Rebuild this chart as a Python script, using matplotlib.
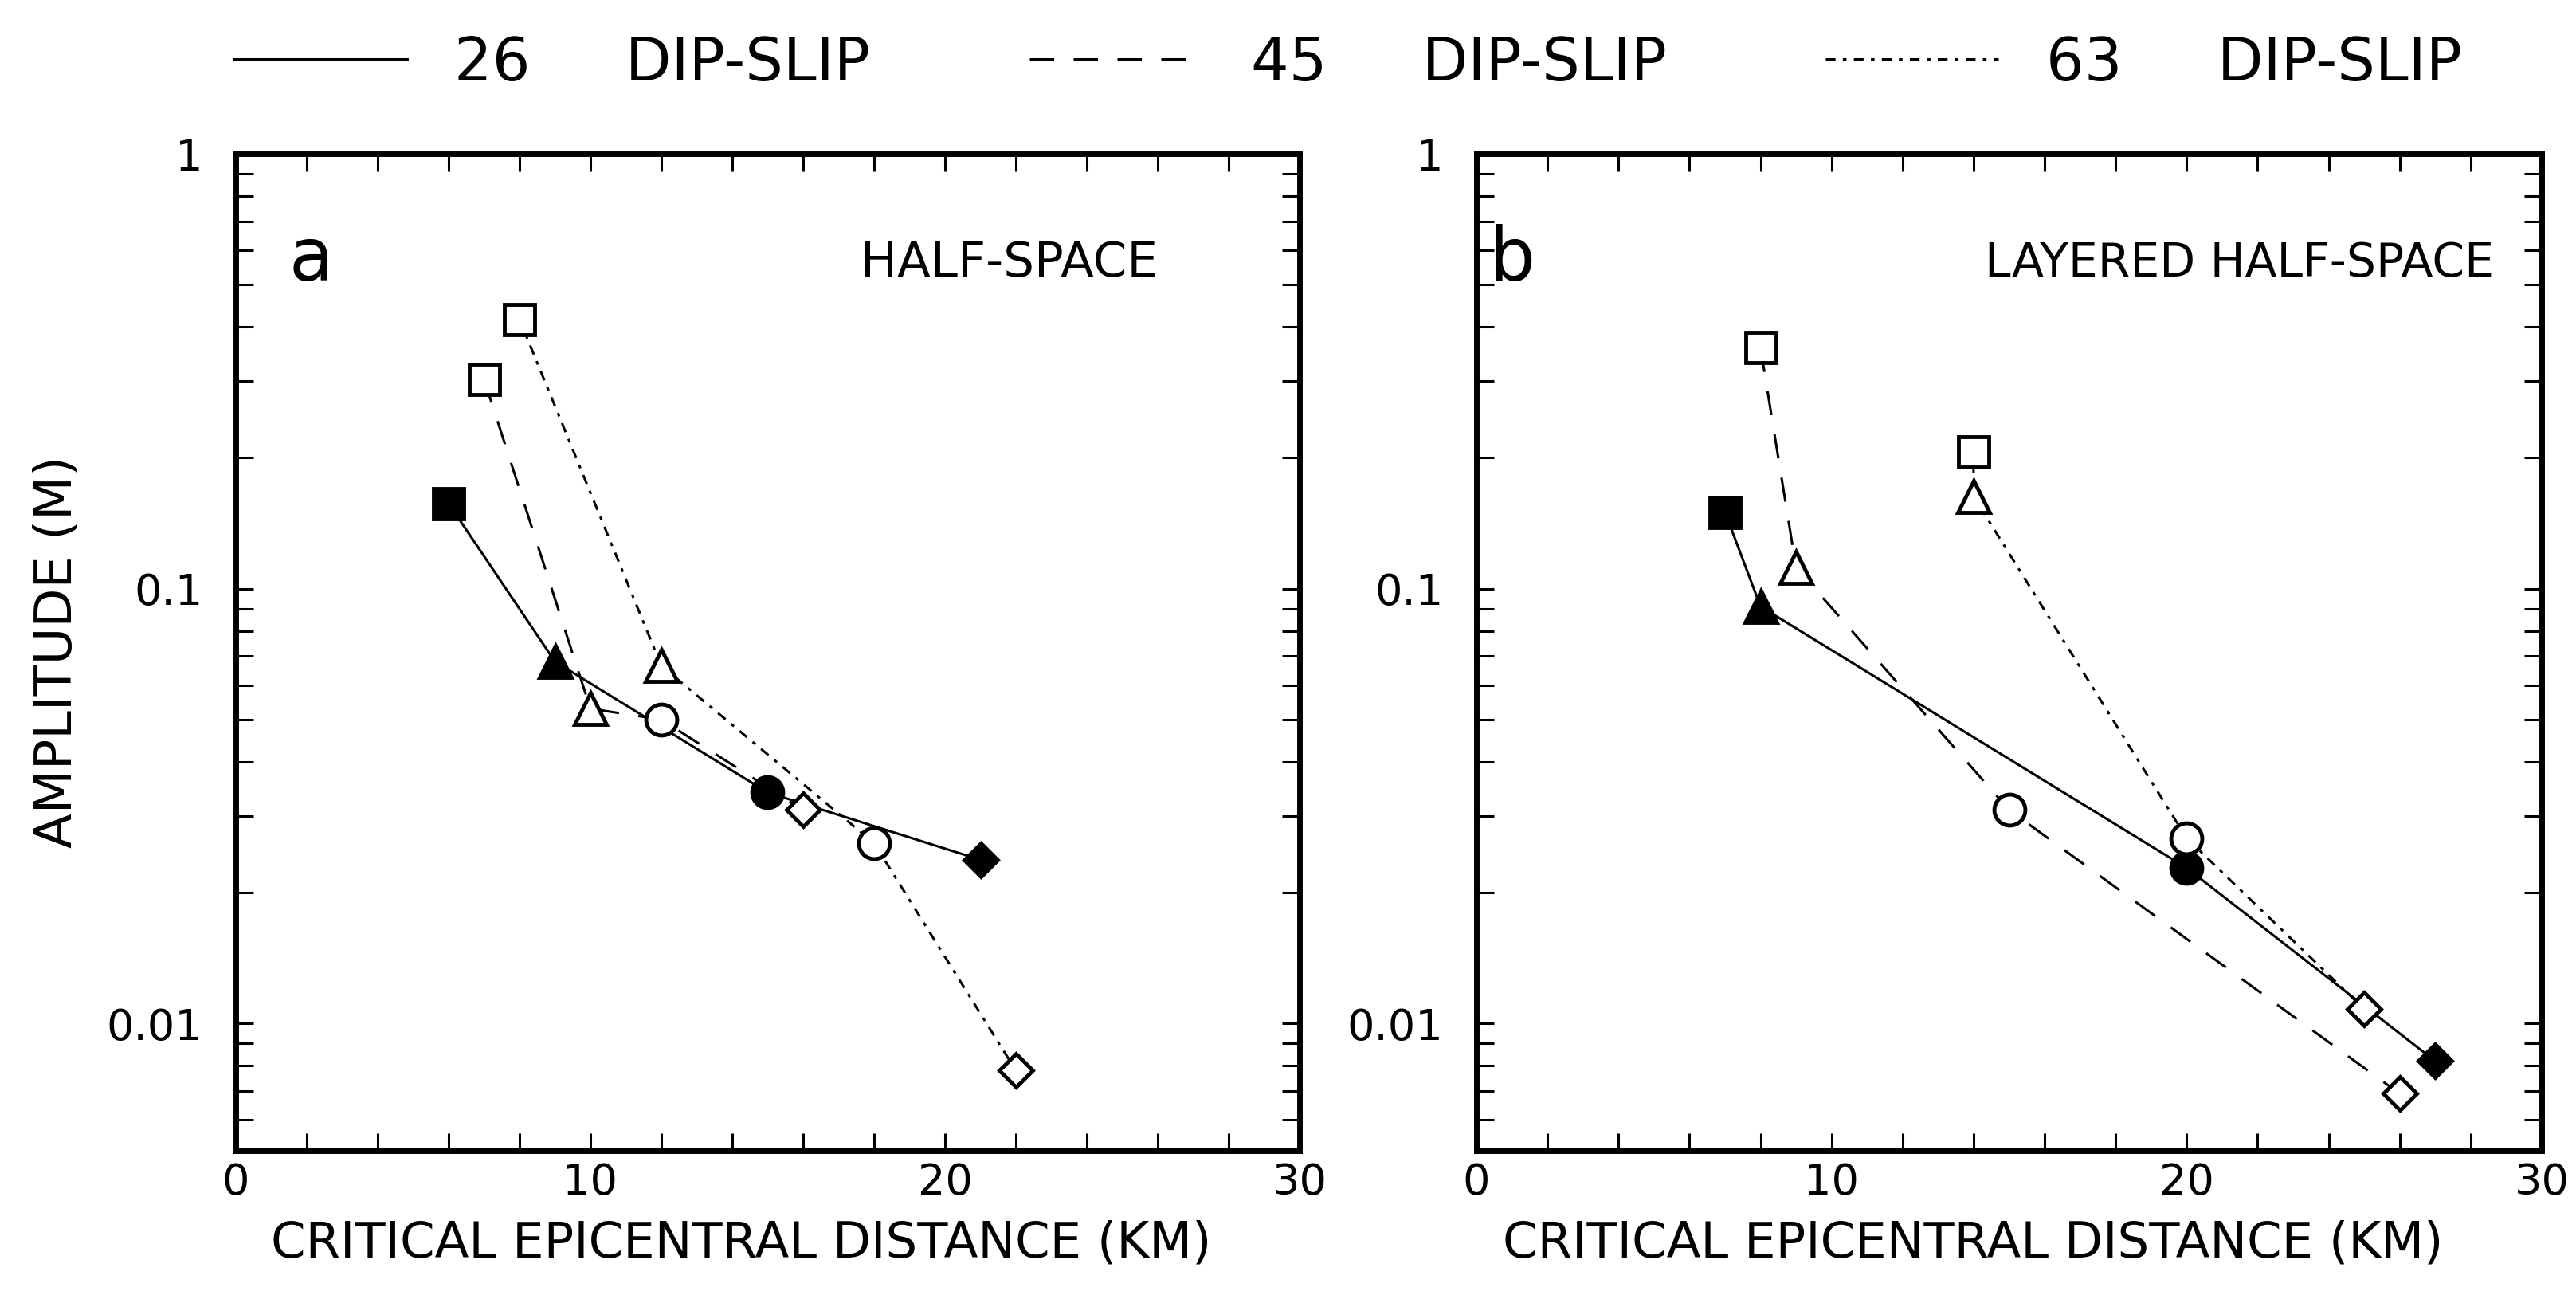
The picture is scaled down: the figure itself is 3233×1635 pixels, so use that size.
import matplotlib
matplotlib.use('Agg')
import matplotlib.pyplot as plt
from matplotlib.ticker import MultipleLocator, LogLocator, NullFormatter

# critical epicentral distance (km) and amplitude (m)
dist_a_26 = [6, 9, 15, 21]
amp_a_26 = [0.157, 0.068, 0.034, 0.0238]
dist_a_45 = [7, 10, 12, 16]
amp_a_45 = [0.303, 0.053, 0.050, 0.031]
dist_a_63 = [8, 12, 18, 22]
amp_a_63 = [0.416, 0.0665, 0.026, 0.0078]

dist_b_26 = [7, 8, 20, 27]
amp_b_26 = [0.150, 0.091, 0.0228, 0.0082]
dist_b_45 = [8, 9, 15, 26]
amp_b_45 = [0.358, 0.112, 0.031, 0.0069]
dist_b_63 = [14, 14, 20, 25]
amp_b_63 = [0.206, 0.163, 0.0267, 0.0108]

series_labels = ['26     DIP-SLIP', '45     DIP-SLIP', '63     DIP-SLIP']
point_markers = ['s', '^', 'o', 'D']
y_ticks = [0.01, 0.1, 1]
y_ticklabels = ['0.01', '0.1', '1']
x_ticks = [0, 10, 20, 30]

styles = [
    dict(ls='-', filled=True),
    dict(ls=(0, (10, 8)), filled=False),
    dict(ls=(0, (4, 3, 1.5, 3)), filled=False),
]
marker_px = {'s': 27, '^': 29, 'o': 28, 'D': 21}

W, H = 3233, 1635
fig = plt.figure(figsize=(W / 100, H / 100), dpi=100)

def px_axes(left, right, top, bottom):
    return fig.add_axes([left / W, 1 - bottom / H, (right - left) / W, (bottom - top) / H])

ax_a = px_axes(296, 1631, 193, 1444)
ax_b = px_axes(1853, 3190, 193, 1444)

def draw_panel(ax, data):
    handles = []
    for (d, a), st in zip(data, styles):
        h, = ax.plot(d, a, color='black', lw=2.2, linestyle=st['ls'], zorder=2)
        handles.append(h)
        for i in range(len(d)):
            m = point_markers[i]
            ax.plot(d[i], a[i], marker=m, ms=marker_px[m], mec='black', mew=3.5,
                    mfc='black' if st['filled'] else 'white', ls='none', zorder=3)
    ax.set_yscale('log')
    ax.set_xlim(0, 30)
    ax.set_ylim(0.0051, 1)
    ax.set_xticks(x_ticks)
    ax.set_xticklabels([str(x) for x in x_ticks])
    ax.xaxis.set_minor_locator(MultipleLocator(2))
    ax.set_yticks(y_ticks)
    ax.set_yticklabels(y_ticklabels)
    ax.yaxis.set_minor_locator(LogLocator(base=10, subs=range(2, 10)))
    ax.yaxis.set_minor_formatter(NullFormatter())
    ax.tick_params(which='both', direction='in', top=True, right=True,
                   length=16, width=2.2, labelsize=39)
    ax.tick_params(axis='x', pad=10)
    ax.tick_params(axis='y', pad=30)
    for s in ax.spines.values():
        s.set_linewidth(5)
    return handles

handles = draw_panel(ax_a, [(dist_a_26, amp_a_26), (dist_a_45, amp_a_45), (dist_a_63, amp_a_63)])
draw_panel(ax_b, [(dist_b_26, amp_b_26), (dist_b_45, amp_b_45), (dist_b_63, amp_b_63)])

ax_a.text(0.05, 0.894, 'a', transform=ax_a.transAxes, fontsize=66, va='center', ha='left')
ax_b.text(0.012, 0.894, 'b', transform=ax_b.transAxes, fontsize=66, va='center', ha='left')
ax_a.text(0.867, 0.89, 'HALF-SPACE', transform=ax_a.transAxes, fontsize=44, va='center', ha='right')
ax_b.text(0.955, 0.89, 'LAYERED HALF-SPACE', transform=ax_b.transAxes, fontsize=42, va='center', ha='right')

ax_a.set_ylabel('AMPLITUDE (M)', fontsize=46, va='center')
ax_a.yaxis.set_label_coords(-0.168, 0.5)
for ax, xc in [(ax_a, 0.475), (ax_b, 0.466)]:
    ax.set_xlabel('CRITICAL EPICENTRAL DISTANCE (KM)', fontsize=45, va='center')
    ax.xaxis.set_label_coords(xc, -0.093)

fig.legend(handles, series_labels, loc='center left', bbox_to_anchor=(293 / W, 1 - 80 / H),
           ncol=3, frameon=False, fontsize=54, handlelength=2.9, handletextpad=0.8,
           columnspacing=2.66, borderpad=0, borderaxespad=0)

fig.savefig('out.png', dpi=100, facecolor='white')
